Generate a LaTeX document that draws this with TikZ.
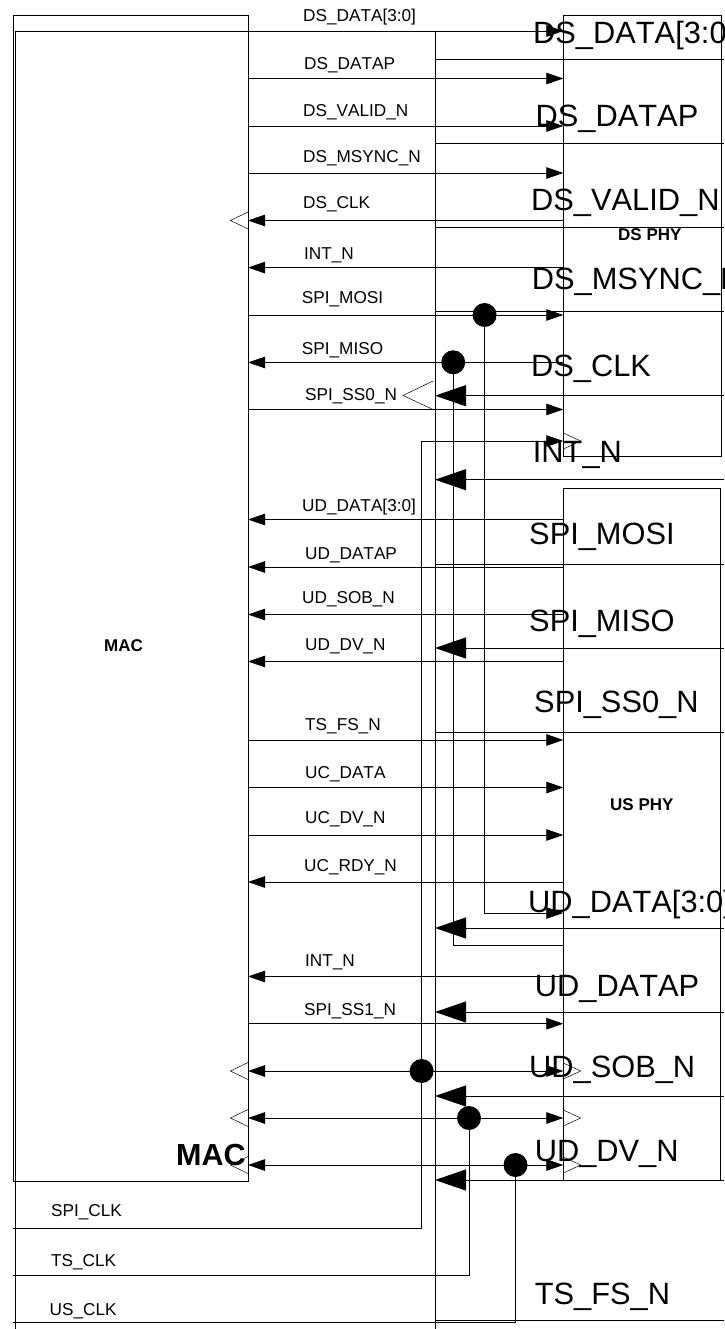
\documentclass[tikz,border=0pt]{standalone}
\usepackage{fontspec}
\setmainfont[Kerning=Off]{Liberation Sans}
\usetikzlibrary{arrows.meta}
\tikzset{
  wire/.style={line width=0.85pt,black},
  smalltip/.style={wire,-{Triangle[length=17pt,width=11.5pt]}},
  bothtip/.style={wire,{Triangle[length=17pt,width=11.5pt]}-{Triangle[length=17pt,width=11.5pt]}},
  bigtip/.style={wire,-{Triangle[length=31pt,width=21pt]}},
  blockbox/.style={draw=black,line width=0.85pt,inner sep=0pt,outer sep=0pt,anchor=north west},
  junction/.style={circle,fill=black,inner sep=0pt,minimum size=24pt},
  lbl/.style={anchor=base west,inner sep=0pt,font=\fontsize{17.2}{20}\selectfont},
  biglbl/.style={anchor=base west,inner sep=0pt,font=\fontsize{30.8}{34}\selectfont},
  boldlbl/.style={anchor=base west,inner sep=0pt,font=\fontsize{17}{20}\selectfont\bfseries},
  clocktri/.style={line width=0.5pt,black}
}
\begin{document}
\begin{tikzpicture}[x=1pt,y=-1pt]
\clip (0,0) rectangle (724,1329);
\fill[white] (0,0) rectangle (724,1329);
% blocks
\node[blockbox,minimum width=235pt,minimum height=1166pt] (mac) at (13,15) {};
\node[blockbox,minimum width=158pt,minimum height=441.5pt] (ds) at (563,15) {};
\node[blockbox,minimum width=157.5pt,minimum height=692.5pt] (us) at (563.3,488) {};
\node[blockbox,minimum width=420pt,minimum height=1320pt] (frame) at (15,31) {};
% rows
\foreach \n/\y in {a/31,b/78.5,c/126,d/173,e/220.5,f/267.6,g/315,h/362.5,i/409.5,
  j/519.5,k/567,l/614.5,m/661.5,n/740,o/787.5,p/835,q/882,r/976.5,s/1023.7,t/1071,u/1118,v/1165}{
  \coordinate (L\n) at (mac.east |- 0,\y);
  \coordinate (R\n) at (563.3,\y);
}
% right-pointing signals
\foreach \n in {a,b,c,d,g,i,n,o,p,s}{\draw[smalltip] (L\n) -- (R\n);}
% left-pointing signals
\foreach \n in {e,f,h,j,k,l,m,q,r}{\draw[smalltip] (R\n) -- (L\n);}
% bidirectional
\foreach \n in {t,u,v}{\draw[bothtip] (L\n) -- (R\n);}
% overlay rows
\foreach \y in {59.3,143,227.3,311.7,564,732,1320.7}{
  \draw[wire] (frame.east |- 0,\y) -- (724,\y);
}
\foreach \y in {395.7,479.7,648,928,1012,1096,1180}{
  \draw[bigtip] (724,\y) -- (frame.east |- 0,\y);
}
% junctions
\node[junction] (j1) at (484.6,315) {};
\node[junction] (j2) at (453.2,362.3) {};
\node[junction] (j3) at (421.6,1071) {};
\node[junction] (j4) at (469,1118) {};
\node[junction] (j5) at (515.5,1165) {};
% elbow connectors
\coordinate (mosiend) at (563.3,913);
\coordinate (misoend) at (563.3,945);
\draw[smalltip] (j1.center) |- (mosiend);
\draw[wire] (j2.center) |- (misoend);
\coordinate (spistart) at (13,1228);
\coordinate (spicorner) at (421.6,441);
\coordinate (spiend) at (563.3,441);
\draw[smalltip] (spistart) -| (spicorner) -- (spiend);
\coordinate (tsstart) at (13,1275.7);
\draw[wire] (tsstart) -| (j4.center);
\coordinate (usstart) at (13,1322.7);
\draw[wire] (usstart) -| (j5.center);
% clock triangles
\foreach \y in {220.5,1071,1118,1165}{
  \draw[clocktri] (248,\y-8.5) -- (230.5,\y) -- (248,\y+8.5);
}
\foreach \y in {441,1071,1118,1165}{
  \draw[clocktri] (563.3,\y-8) -- (580.7,\y) -- (563.3,\y+8);
}
\draw[clocktri] (433,381) -- (403,395.5) -- (433,409.5);
% small labels
\node[lbl] (t1) at (303,22) {DS\_DATA[3:0]};
\node[lbl] (t2) at (304,70) {DS\_DATAP};
\node[lbl] (t3) at (303,117) {DS\_VALID\_N};
\node[lbl] (t4) at (303,162.5) {DS\_MSYNC\_N};
\node[lbl] (t5) at (303,209) {DS\_CLK};
\node[lbl] (t6) at (304,259.5) {INT\_N};
\node[lbl] (t7) at (301.7,304) {SPI\_MOSI};
\node[lbl] (t8) at (301.7,354) {SPI\_MISO};
\node[lbl] (t9) at (305,400) {SPI\_SS0\_N};
\node[lbl] (t10) at (302,511.7) {UD\_DATA[3:0]};
\node[lbl] (t11) at (305,559) {UD\_DATAP};
\node[lbl] (t12) at (302,603) {UD\_SOB\_N};
\node[lbl] (t13) at (305,650.7) {UD\_DV\_N};
\node[lbl] (t14) at (305,730.7) {TS\_FS\_N};
\node[lbl] (t15) at (305,778) {UC\_DATA};
\node[lbl] (t16) at (305,823) {UC\_DV\_N};
\node[lbl] (t17) at (304,871.7) {UC\_RDY\_N};
\node[lbl] (t18) at (305,966) {INT\_N};
\node[lbl] (t19) at (304,1015) {SPI\_SS1\_N};
\node[lbl] (t20) at (51,1216.7) {SPI\_CLK};
\node[lbl] (t21) at (51,1266) {TS\_CLK};
\node[lbl] (t22) at (49.5,1315) {US\_CLK};
\node[boldlbl] (t23) at (104,651) {MAC};
\node[boldlbl] (t24) at (618,241) {DS PHY};
\node[boldlbl] (t25) at (610,810) {US PHY};
% large labels
\node[biglbl] (b1) at (533,43.3) {DS\_DATA[3:0]};
\node[biglbl] (b2) at (535.5,126.7) {DS\_DATAP};
\node[biglbl] (b3) at (531,210.7) {DS\_VALID\_N};
\node[biglbl] (b4) at (531.7,289.3) {DS\_MSYNC\_N};
\node[biglbl] (b5) at (531,376) {DS\_CLK};
\node[biglbl] (b6) at (532.7,462.7) {INT\_N};
\node[biglbl] (b7) at (529,544) {SPI\_MOSI};
\node[biglbl] (b8) at (529,631.7) {SPI\_MISO};
\node[biglbl] (b9) at (534,712) {SPI\_SS0\_N};
\node[biglbl] (b10) at (528,912) {UD\_DATA[3:0]};
\node[biglbl] (b11) at (534.7,996) {UD\_DATAP};
\node[biglbl] (b12) at (529,1077) {UD\_SOB\_N};
\node[biglbl] (b13) at (534.6,1161.7) {UD\_DV\_N};
\node[biglbl] (b14) at (534.6,1304) {TS\_FS\_N};
\node[biglbl,font=\fontsize{30.5}{34}\selectfont\bfseries] (b15) at (176,1165) {MAC};
\end{tikzpicture}
\end{document}
